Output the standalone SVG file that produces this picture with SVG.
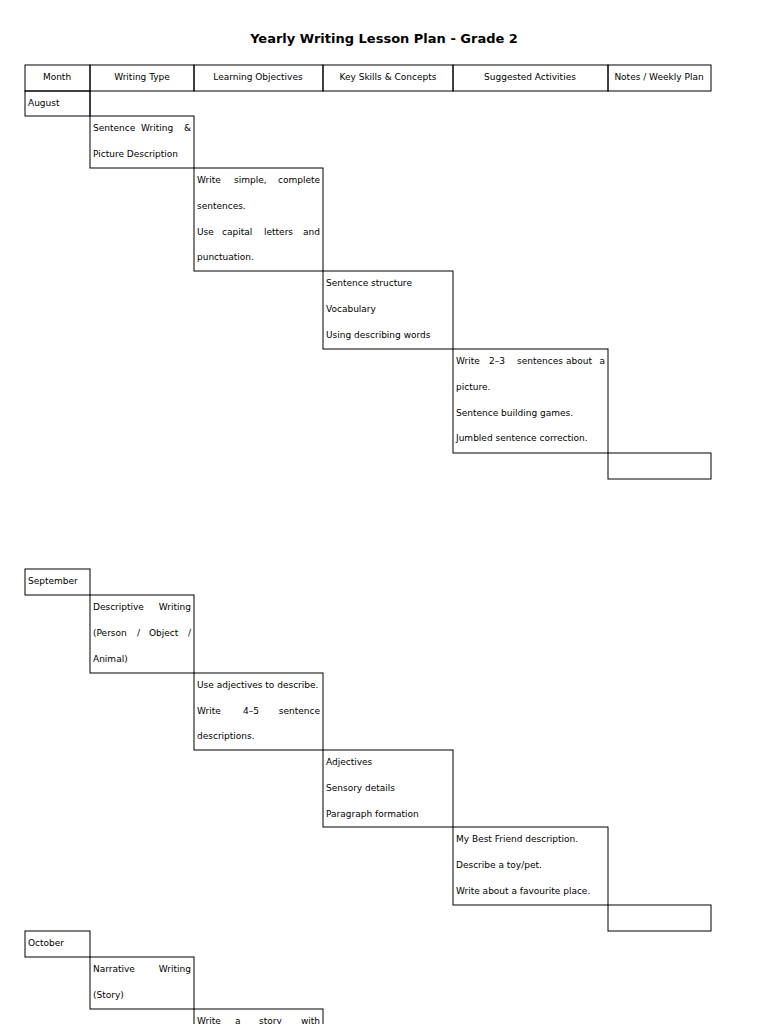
<svg xmlns="http://www.w3.org/2000/svg" width="768" height="1024" viewBox="0 0 768 1024">
<style>
rect{fill:none;stroke:#000;stroke-width:1}
text{font-family:"DejaVu Sans",sans-serif;font-size:9px;fill:#000}
.h{text-anchor:middle}
.e{text-anchor:end}
.t{font-size:13px;font-weight:bold;text-anchor:middle}
</style>
<rect x="0" y="0" width="768" height="1024" style="fill:#fff;stroke:none"/>
<text class="t" x="384" y="43">Yearly Writing Lesson Plan - Grade 2</text>
<g id="header">
<rect x="25" y="65" width="65" height="26"/><rect x="90" y="65" width="104" height="26"/><rect x="194" y="65" width="129" height="26"/><rect x="323" y="65" width="130" height="26"/><rect x="453" y="65" width="155" height="26"/><rect x="608" y="65" width="103" height="26"/>
<text class="h" x="57" y="80">Month</text><text class="h" x="142" y="80">Writing Type</text><text class="h" x="258" y="80">Learning Objectives</text><text class="h" x="388" y="80">Key Skills &amp; Concepts</text><text class="h" x="530" y="80">Suggested Activities</text><text class="h" x="659" y="80">Notes / Weekly Plan</text>
</g>
<g id="august">
<rect x="25" y="91" width="65" height="25"/>
<text x="28" y="106">August</text>
<rect x="90" y="116" width="104" height="52"/>
<path d="M90 91V116" stroke="#000" fill="none"/>
<text x="93" y="131">Sentence</text><text x="141" y="131">Writing</text><text class="e" x="191" y="131">&amp;</text>
<text x="93" y="157">Picture Description</text>
<rect x="194" y="168" width="129" height="103"/>
<text x="197" y="183">Write</text><text x="234" y="183">simple,</text><text class="e" x="320" y="183">complete</text>
<text x="197" y="209">sentences.</text>
<text x="197" y="235">Use</text><text x="222" y="235">capital</text><text x="264" y="235">letters</text><text class="e" x="320" y="235">and</text>
<text x="197" y="260">punctuation.</text>
<rect x="323" y="271" width="130" height="78"/>
<text x="326" y="286">Sentence structure</text><text x="326" y="312">Vocabulary</text><text x="326" y="338">Using describing words</text>
<rect x="453" y="349" width="155" height="104"/>
<text x="456" y="364">Write</text><text x="489" y="364">2–3</text><text x="517" y="364">sentences</text><text x="566" y="364">about</text><text class="e" x="605" y="364">a</text>
<text x="456" y="390">picture.</text><text x="456" y="416">Sentence building games.</text><text x="456" y="441">Jumbled sentence correction.</text>
<rect x="608" y="453" width="103" height="26"/>
</g>
<g id="september">
<rect x="25" y="569" width="65" height="26"/>
<text x="28" y="584">September</text>
<rect x="90" y="595" width="104" height="78"/>
<text x="93" y="610">Descriptive</text><text class="e" x="191" y="610">Writing</text>
<text x="93" y="636">(Person</text><text x="137" y="636">/</text><text x="149" y="636">Object</text><text class="e" x="191" y="636">/</text>
<text x="93" y="662">Animal)</text>
<rect x="194" y="673" width="129" height="77"/>
<text x="197" y="688">Use adjectives to describe.</text>
<text x="197" y="714">Write</text><text x="243" y="714">4–5</text><text class="e" x="320" y="714">sentence</text>
<text x="197" y="739">descriptions.</text>
<rect x="323" y="750" width="130" height="77"/>
<text x="326" y="765">Adjectives</text><text x="326" y="791">Sensory details</text><text x="326" y="817">Paragraph formation</text>
<rect x="453" y="827" width="155" height="78"/>
<text x="456" y="842">My Best Friend description.</text><text x="456" y="868">Describe a toy/pet.</text><text x="456" y="894">Write about a favourite place.</text>
<rect x="608" y="905" width="103" height="26"/>
</g>
<g id="october">
<rect x="25" y="931" width="65" height="26"/>
<text x="28" y="946">October</text>
<rect x="90" y="957" width="104" height="52"/>
<text x="93" y="972">Narrative</text><text class="e" x="191" y="972">Writing</text>
<text x="93" y="998">(Story)</text>
<rect x="194" y="1009" width="129" height="40"/>
<text x="197" y="1024">Write</text><text x="235" y="1024">a</text><text x="259" y="1024">story</text><text class="e" x="320" y="1024">with</text>
</g>
<g id="connectors"></g>
</svg>
